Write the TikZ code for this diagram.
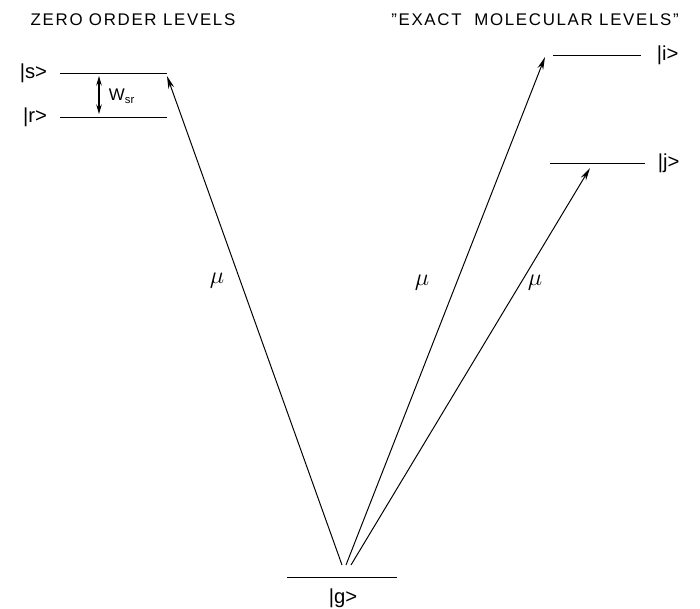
\documentclass[tikz,border=0pt]{standalone}
\usepackage{fontspec}
\setmainfont{Liberation Sans}
\usetikzlibrary{arrows.meta,positioning}
\tikzset{
  levelln/.style={line width=0.7pt},
  transln/.style={-{Stealth[length=3.2mm,width=1.5mm]}, line width=0.7pt},
  couplln/.style={{Stealth[length=2.4mm,width=1.4mm]}-{Stealth[length=2.4mm,width=1.4mm]}, line width=0.8pt},
  ketlbl/.style={font=\Large, inner sep=1pt},
  headlbl/.style={font=\large\addfontfeatures{LetterSpace=10}},
  mulbl/.style={font=\LARGE, inner sep=1pt},
}

\begin{document}
\begin{tikzpicture}[x=0.025cm,y=-0.025cm]
  \useasboundingbox (0,0) rectangle (700,609);
  % headings
  \node[headlbl] (zohead) at (133,20) {ZERO ORDER LEVELS};
  \node[headlbl] (exhead) at (535,20) {\symbol{34}EXACT\ \ MOLECULAR LEVELS\symbol{34}};
  % zero order levels
  \draw[levelln] (60,73) coordinate (sL) -- (167,73) coordinate (sR);
  \draw[levelln] (60,117) coordinate (rL) -- (167,117) coordinate (rR);
  \node[ketlbl, left=8pt of sL] (sket) {|s>};
  \node[ketlbl, left=8pt of rL] (rket) {|r>};
  \coordinate (wtop) at (99,76);
  \coordinate (wbot) at (99,114);
  \draw[couplln] (wtop) -- (wbot);
  \node[anchor=west, font=\large] (wsr) at (104,96) {W\textsubscript{sr}};
  % exact molecular levels
  \draw[levelln] (553,55) coordinate (iL) -- (641,55) coordinate (iR);
  \draw[levelln] (550,163) coordinate (jL) -- (645,163) coordinate (jR);
  \node[ketlbl, right=10pt of iR] (iket) {|i>};
  \node[ketlbl, right=8pt of jR] (jket) {|j>};
  % ground level
  \draw[levelln] (287,577) coordinate (gL) -- (397,577) coordinate (gR);
  \node[ketlbl] (gket) at (343,598) {|g>};
  % transitions
  \coordinate (g1) at (342,565);
  \coordinate (g2) at (346,565);
  \coordinate (g3) at (351,565);
  \coordinate (sT) at (167,76);
  \coordinate (iT) at (545,57);
  \coordinate (jT) at (590,168);
  \draw[transln] (g1) -- (sT);
  \draw[transln] (g2) -- (iT);
  \draw[transln] (g3) -- (jT);
  \node[mulbl] (mu1) at (217,281) {$\mu$};
  \node[mulbl] (mu2) at (422,283) {$\mu$};
  \node[mulbl] (mu3) at (535,283) {$\mu$};
\end{tikzpicture}
\end{document}
